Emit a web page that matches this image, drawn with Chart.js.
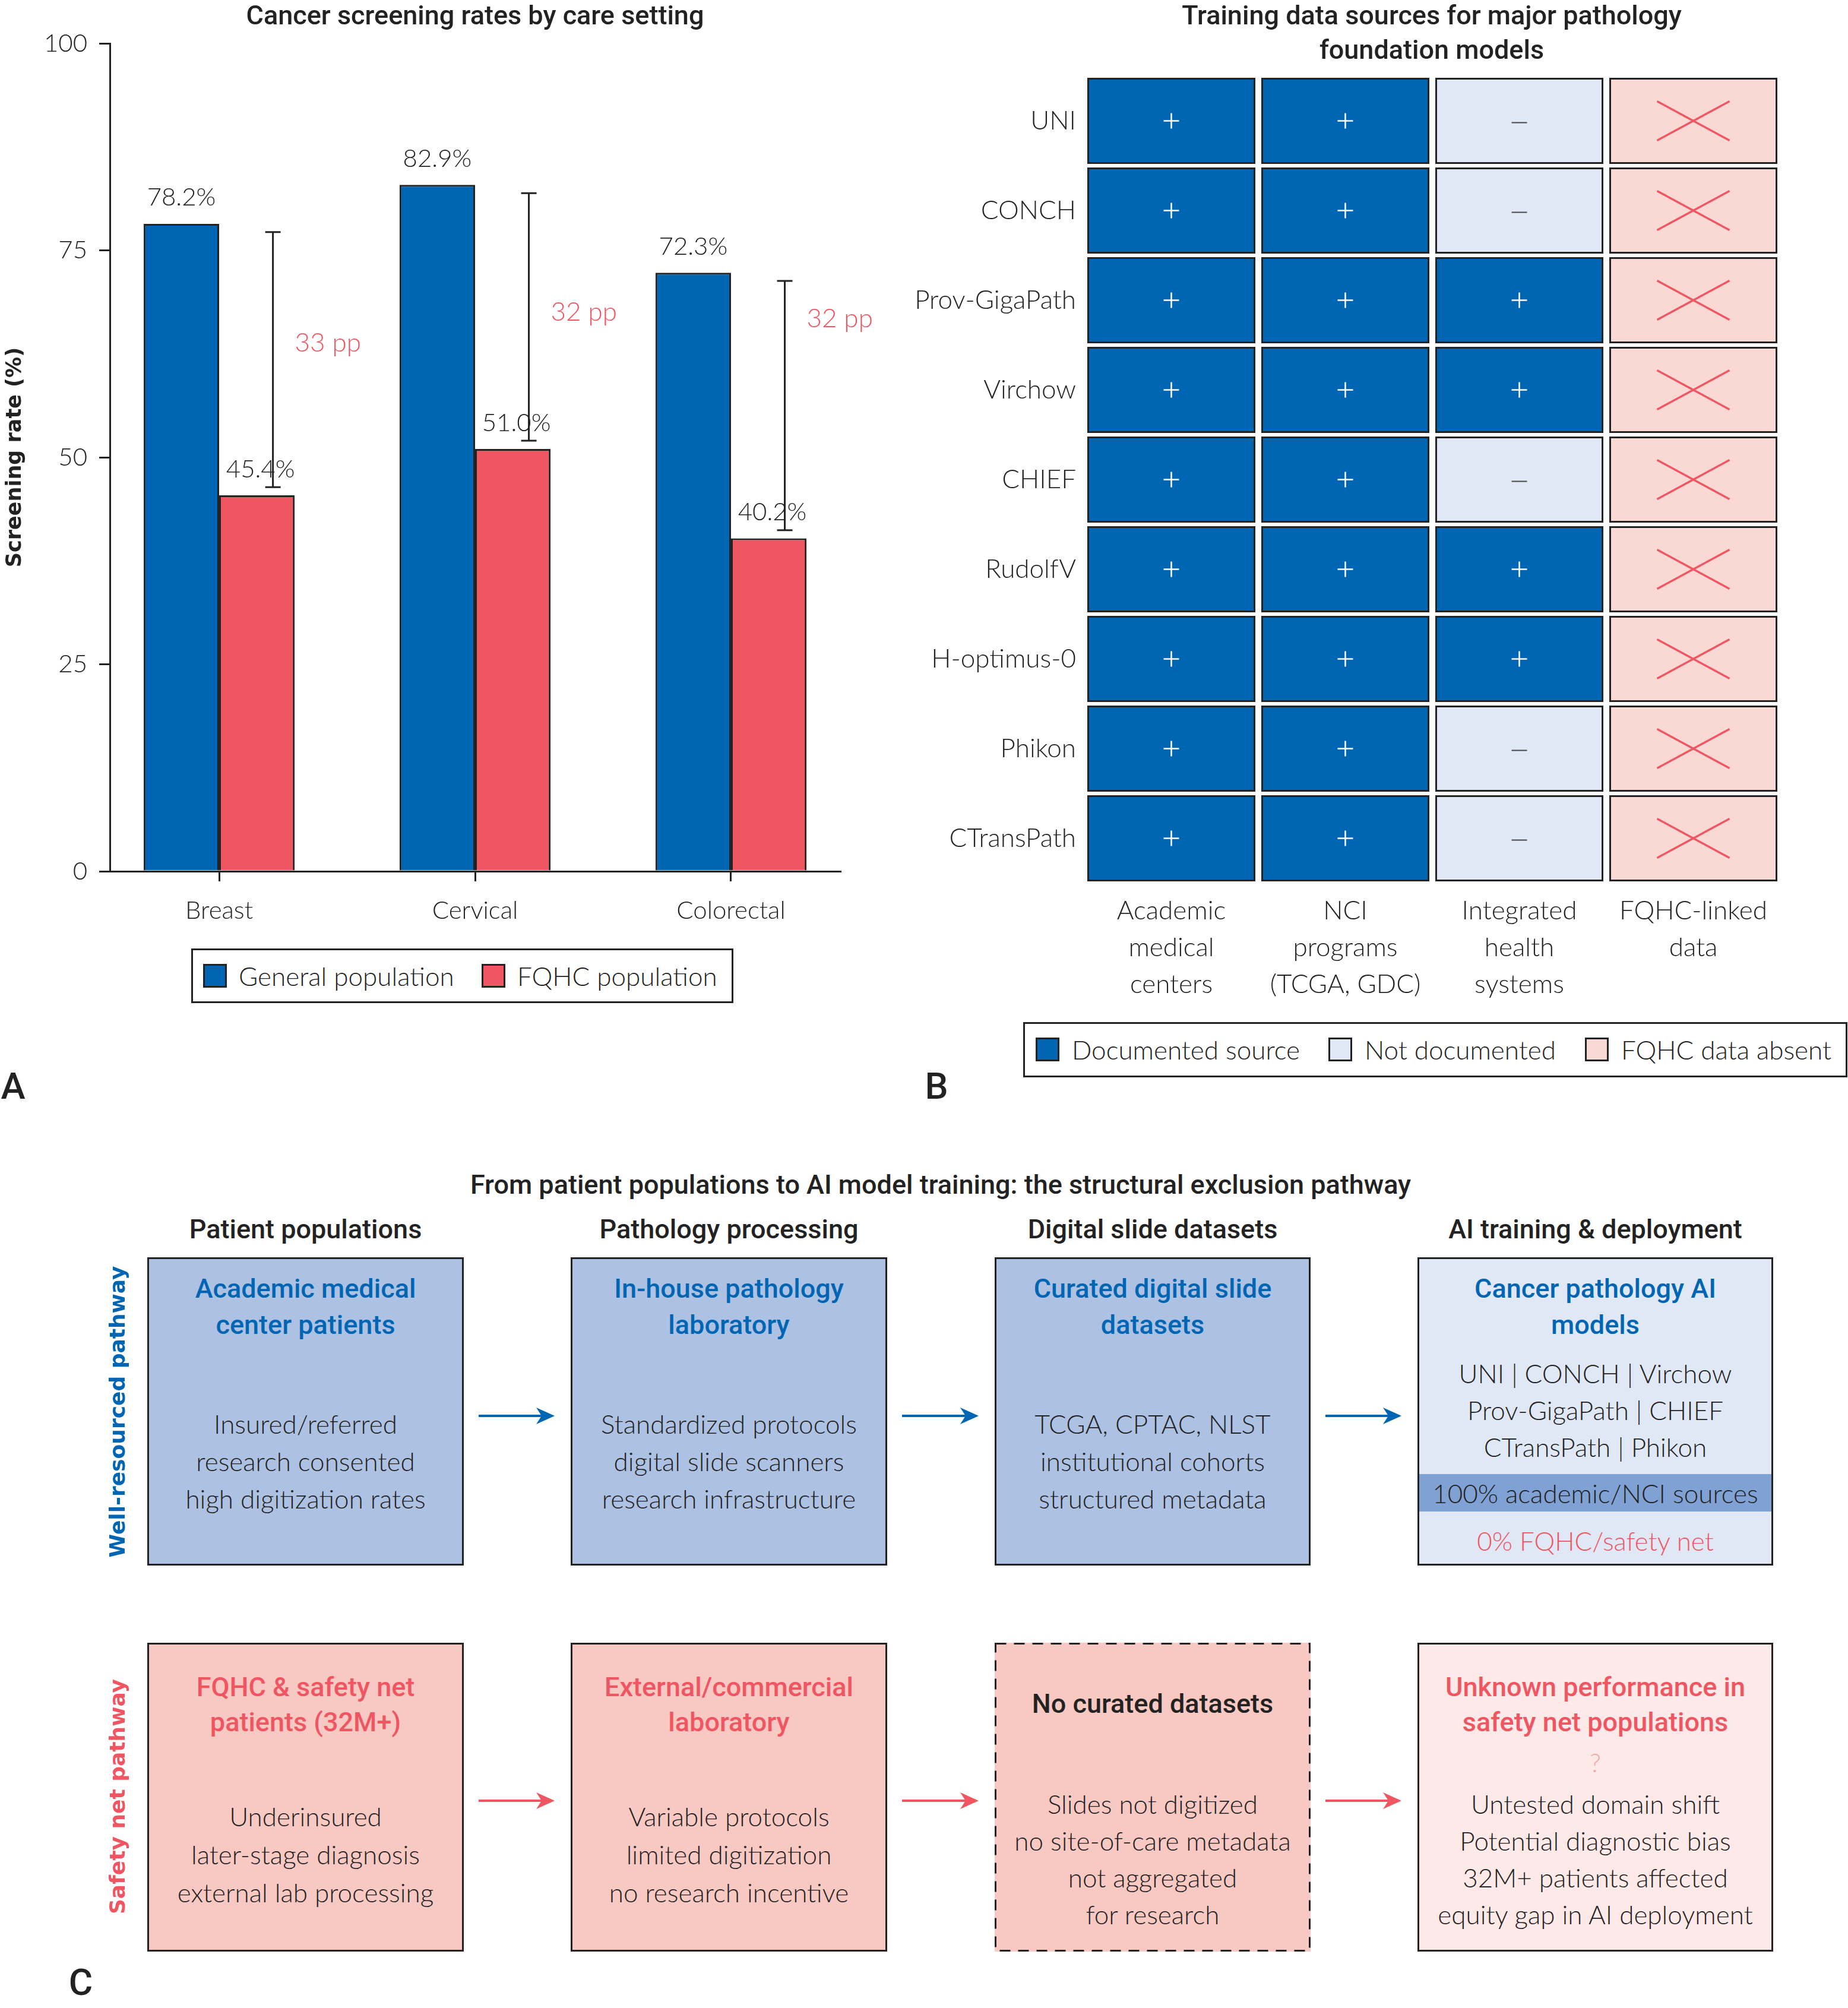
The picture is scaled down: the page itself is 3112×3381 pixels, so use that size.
<!DOCTYPE html>
<html>
<head>
<meta charset="utf-8">
<title>Screening rates, training data sources and exclusion pathway</title>
<script src="https://cdn.jsdelivr.net/npm/chart.js@4.4.1/dist/chart.umd.min.js"></script>
<style>
    html, body { margin: 0; padding: 0; background: #fff; }
    #page { position: relative; width: 3112px; height: 3381px; overflow: hidden; color: #222; font-family: Lato, 'Open Sans', sans-serif; font-weight: 300; }
    canvas { position: absolute; }
    .t { position: absolute; white-space: nowrap; transform: translate(-50%, -50%); line-height: 1.2; }
    .l { position: absolute; white-space: nowrap; transform: translate(0, -50%); line-height: 1.2; font-size: 44px; }
    .head { font-family: Roboto, sans-serif; font-weight: 500; font-size: 45px; }
    .btitle { font-family: Roboto, sans-serif; font-weight: 500; font-size: 45px; }
    .body { font-size: 44px; }
    .side { font-family: 'DejaVu Sans', sans-serif; font-weight: bold; font-size: 36px; transform: translate(-50%, -50%) rotate(-90deg); }
    .letter { font-family: Roboto, sans-serif; font-weight: 500; font-size: 62px; }
    .box { position: absolute; box-sizing: border-box; }
    .frame { position: absolute; box-sizing: border-box; border: 3px solid #222; }
    .sw { position: absolute; box-sizing: border-box; border: 3px solid #222; width: 40px; height: 40px; }
    svg { position: absolute; left: 0; top: 0; }
</style>
</head>
<body>
<div id="page">
    <canvas id="chartA" width="1500" height="1580" style="left:0;top:0"></canvas>
    <canvas id="chartB" width="1612" height="1700" style="left:1500px;top:0"></canvas>
</div>
<script>
// ---------------------------------------------------------------- panel A data
var screeningSites = ['Breast', 'Cervical', 'Colorectal'];
var generalRate = [78.2, 82.9, 72.3];
var fqhcRate = [45.4, 51.0, 40.2];
var rateTicks = [0, 25, 50, 75, 100];
var gapLabelLevel = [63.8, 67.5, 66.7];

// ---------------------------------------------------------------- panel B data
var models = ['UNI', 'CONCH', 'Prov-GigaPath', 'Virchow', 'CHIEF', 'RudolfV', 'H-optimus-0', 'Phikon', 'CTransPath'];
var sourceLabels = [['Academic', 'medical', 'centers'], ['NCI', 'programs', '(TCGA, GDC)'], ['Integrated', 'health', 'systems'], ['FQHC-linked', 'data']];
// 1 = documented source, 0 = not documented, -1 = FQHC data absent
var academicStatus = [1, 1, 1, 1, 1, 1, 1, 1, 1];
var nciStatus = [1, 1, 1, 1, 1, 1, 1, 1, 1];
var integratedStatus = [0, 0, 1, 1, 0, 1, 1, 0, 0];
var fqhcStatus = [-1, -1, -1, -1, -1, -1, -1, -1, -1];
var statusNames = ['Documented source', 'Not documented', 'FQHC data absent'];

// ---------------------------------------------------------------- panel C text
var stageHeaders = ['Patient populations', 'Pathology processing', 'Digital slide datasets', 'AI training & deployment'];
var wellTitles = [['Academic medical', 'center patients'], ['In-house pathology', 'laboratory'], ['Curated digital slide', 'datasets'], ['Cancer pathology AI', 'models']];
var wellDetails = [
    ['Insured/referred', 'research consented', 'high digitization rates'],
    ['Standardized protocols', 'digital slide scanners', 'research infrastructure'],
    ['TCGA, CPTAC, NLST', 'institutional cohorts', 'structured metadata'],
    ['UNI | CONCH | Virchow', 'Prov-GigaPath | CHIEF', 'CTransPath | Phikon']
];
var wellShare = '100% academic/NCI sources';
var netShare = '0% FQHC/safety net';
var netTitles = [['FQHC & safety net', 'patients (32M+)'], ['External/commercial', 'laboratory'], ['No curated datasets'], ['Unknown performance in', 'safety net populations']];
var netDetails = [
    ['Underinsured', 'later-stage diagnosis', 'external lab processing'],
    ['Variable protocols', 'limited digitization', 'no research incentive'],
    ['Slides not digitized', 'no site-of-care metadata', 'not aggregated', 'for research'],
    ['Untested domain shift', 'Potential diagnostic bias', '32M+ patients affected', 'equity gap in AI deployment']
];

var BLUE = '#0066b3';
var RED = '#f05662';
var INK = '#222222';
var page = document.getElementById('page');

function addText(text, cx, cy, cls, style) {
    var d = document.createElement('div');
    d.className = cls;
    d.textContent = text;
    d.style.left = cx + 'px';
    d.style.top = cy + 'px';
    if (style) {
        Object.assign(d.style, style);
    }
    page.appendChild(d);
    return d;
}

function addBlock(cls, left, top, width, height, style) {
    var d = document.createElement('div');
    d.className = cls;
    d.style.left = left + 'px';
    d.style.top = top + 'px';
    d.style.width = width + 'px';
    d.style.height = height + 'px';
    if (style) {
        Object.assign(d.style, style);
    }
    page.appendChild(d);
    return d;
}

// ---------------------------------------------------------------- panel A chart
var gapMarks = {
    id: 'gapMarks',
    afterDatasetsDraw(chart) {
        var ctx = chart.ctx;
        var xs = chart.scales.x;
        var ys = chart.scales.y;
        var gen = chart.getDatasetMeta(0).data;
        var fq = chart.getDatasetMeta(1).data;

        ctx.save();
        ctx.textAlign = 'center';
        ctx.textBaseline = 'middle';
        ctx.strokeStyle = INK;
        ctx.lineWidth = 3;

        generalRate.forEach((v, i) => {
            var bx = fq[i].x + 27;
            var top = ys.getPixelForValue(v - 1);
            var bot = ys.getPixelForValue(fqhcRate[i] + 1);
            ctx.beginPath();
            ctx.moveTo(bx, top);
            ctx.lineTo(bx, bot);
            ctx.moveTo(bx - 13, top);
            ctx.lineTo(bx + 13, top);
            ctx.moveTo(bx - 13, bot);
            ctx.lineTo(bx + 13, bot);
            ctx.stroke();

            ctx.font = '300 42px Lato';
            ctx.fillStyle = INK;
            ctx.fillText(v.toFixed(1) + '%', gen[i].x, gen[i].y - 44);
            ctx.fillText(fqhcRate[i].toFixed(1) + '%', fq[i].x + 6, fq[i].y - 44);

            ctx.font = '300 44px Lato';
            ctx.fillStyle = RED;
            ctx.fillText(Math.round(v - fqhcRate[i]) + ' pp', xs.getPixelForValue(i + 0.425), ys.getPixelForValue(gapLabelLevel[i]));
        });
        ctx.restore();
    }
};

new Chart(document.getElementById('chartA'), {
    type: 'bar',
    data: {
        datasets: [{
            label: 'General population',
            data: generalRate.map((v, i) => ({x: i, y: v})),
            backgroundColor: BLUE,
            borderColor: INK,
            borderWidth: 3
        }, {
            label: 'FQHC population',
            data: fqhcRate.map((v, i) => ({x: i, y: v})),
            backgroundColor: RED,
            borderColor: INK,
            borderWidth: 3
        }]
    },
    options: {
        responsive: false,
        animation: false,
        devicePixelRatio: 1,
        categoryPercentage: 0.59,
        barPercentage: 1,
        layout: {padding: {top: 73, right: 85, left: 0, bottom: 0}},
        plugins: {legend: {display: false}, tooltip: {enabled: false}},
        scales: {
            x: {
                type: 'linear',
                min: -0.427,
                max: 2.427,
                offset: false,
                z: 1,
                afterBuildTicks: (axis) => { axis.ticks = screeningSites.map((s, i) => ({value: i})); },
                afterFit: (axis) => { axis.height = 1580 - 1467; },
                grid: {drawOnChartArea: false, tickLength: 17, color: INK, lineWidth: 3, offset: false},
                border: {color: INK, width: 3},
                ticks: {
                    callback: (v) => screeningSites[v],
                    font: {family: 'Lato', weight: 300, size: 42},
                    color: INK,
                    padding: 24,
                    maxRotation: 0,
                    autoSkip: false
                }
            },
            y: {
                min: 0,
                max: 100,
                z: 1,
                afterBuildTicks: (axis) => { axis.ticks = rateTicks.map((v) => ({value: v})); },
                afterFit: (axis) => { axis.width = 185; },
                grid: {drawOnChartArea: false, tickLength: 18, color: INK, lineWidth: 3},
                border: {color: INK, width: 3},
                ticks: {
                    font: {family: 'Lato', weight: 300, size: 42},
                    color: INK,
                    padding: 20
                },
                title: {
                    display: true,
                    text: 'Screening rate (%)',
                    font: {family: 'DejaVu Sans', weight: 'bold', size: 35},
                    color: INK,
                    padding: {top: 5, bottom: 0}
                }
            }
        }
    },
    plugins: [gapMarks]
});

addText('Cancer screening rates by care setting', 800, 26, 't head');
addBlock('frame', 322, 1597, 913, 92);
addBlock('sw', 342, 1623, 40, 40, {background: BLUE});
addText('General population', 402, 1643, 'l');
addBlock('sw', 811, 1623, 40, 40, {background: RED});
addText('FQHC population', 871, 1643, 'l');
addText('A', 22, 1829, 't letter');

// ---------------------------------------------------------------- panel B chart
var cellStatus = [academicStatus, nciStatus, integratedStatus, fqhcStatus];
var statusFill = {'1': BLUE, '0': '#e0e8f5', '-1': '#fad9d5'};

var cellMarks = {
    id: 'cellMarks',
    afterDatasetsDraw(chart) {
        var ctx = chart.ctx;
        ctx.save();
        ctx.lineCap = 'butt';
        cellStatus.forEach((col, j) => {
            chart.getDatasetMeta(j).data.forEach((bar, i) => {
                var cx = (bar.x + bar.base) / 2;
                var cy = bar.y;
                var s = col[i];
                ctx.beginPath();
                if (s === 1) {
                    ctx.strokeStyle = '#ffffff';
                    ctx.lineWidth = 2.5;
                    ctx.moveTo(cx - 13, cy);
                    ctx.lineTo(cx + 13, cy);
                    ctx.moveTo(cx, cy - 13);
                    ctx.lineTo(cx, cy + 13);
                } else if (s === 0) {
                    ctx.strokeStyle = '#444444';
                    ctx.lineWidth = 2;
                    ctx.moveTo(cx - 13, cy + 3);
                    ctx.lineTo(cx + 13, cy + 3);
                } else {
                    ctx.strokeStyle = RED;
                    ctx.lineWidth = 3.5;
                    ctx.moveTo(cx - 61, cy - 33);
                    ctx.lineTo(cx + 61, cy + 33);
                    ctx.moveTo(cx - 61, cy + 33);
                    ctx.lineTo(cx + 61, cy - 33);
                }
                ctx.stroke();
            });
        });
        ctx.restore();
    }
};

new Chart(document.getElementById('chartB'), {
    type: 'bar',
    data: {
        labels: models,
        datasets: cellStatus.map((col, j) => ({
            label: sourceLabels[j].join(' '),
            data: col.map(() => [j + 0.017, j + 0.983]),
            backgroundColor: col.map((s) => statusFill[s]),
            borderColor: INK,
            borderWidth: 3,
            borderSkipped: false,
            grouped: false,
            barPercentage: 0.96,
            categoryPercentage: 1
        }))
    },
    options: {
        indexAxis: 'y',
        responsive: false,
        animation: false,
        devicePixelRatio: 1,
        layout: {padding: {top: 128, right: 114, left: 0, bottom: 0}},
        plugins: {legend: {display: false}, tooltip: {enabled: false}},
        scales: {
            x: {
                type: 'linear',
                min: 0,
                max: 4,
                afterBuildTicks: (axis) => { axis.ticks = sourceLabels.map((s, j) => ({value: j + 0.5})); },
                afterFit: (axis) => { axis.height = 1700 - 1487; },
                grid: {display: false},
                border: {display: false},
                ticks: {
                    callback: (v) => sourceLabels[Math.floor(v)],
                    font: {family: 'Lato', weight: 300, size: 44, lineHeight: 1.41},
                    color: INK,
                    padding: 8,
                    maxRotation: 0,
                    autoSkip: false
                }
            },
            y: {
                afterFit: (axis) => { axis.width = 326; },
                grid: {display: false},
                border: {display: false},
                ticks: {
                    font: {family: 'Lato', weight: 300, size: 44},
                    color: INK,
                    padding: 6
                }
            }
        }
    },
    plugins: [cellMarks]
});

addText('Training data sources for major pathology', 2411, 26, 't head');
addText('foundation models', 2411, 84, 't head');
addBlock('frame', 1723, 1721, 1388, 93);
var legendSwatchX = [1744, 2237, 2669];
var legendFill = [statusFill['1'], statusFill['0'], statusFill['-1']];
statusNames.forEach((name, k) => {
    addBlock('sw', legendSwatchX[k], 1747, 40, 40, {background: legendFill[k]});
    addText(name, legendSwatchX[k] + 61, 1767, 'l');
});
addText('B', 1577, 1829, 't letter');

// ---------------------------------------------------------------- panel C flow
var boxLeft = [248, 961, 1675, 2387];
var boxRight = [781, 1494, 2207, 2986];
var wellTop = 2117, wellBottom = 2636;
var netTop = 2766, netBottom = 3286;
var wellFill = ['#adc1e3', '#adc1e3', '#adc1e3', '#e0e8f5'];
var netFill = ['#f8c8c2', '#f8c8c2', '#f8c8c2', '#fde9e8'];

addText('From patient populations to AI model training: the structural exclusion pathway', 1584, 1995, 't head');

stageHeaders.forEach((h, k) => {
    var cx = (boxLeft[k] + boxRight[k]) / 2;
    var w = boxRight[k] - boxLeft[k];
    addText(h, cx, 2070, 't head');

    // well-resourced row
    addBlock('box', boxLeft[k], wellTop, w, wellBottom - wellTop, {background: wellFill[k], border: '3px solid #222'});
    wellTitles[k].forEach((line, n) => addText(line, cx, 2170 + n * 61, 't btitle', {color: BLUE}));
    if (k < 3) {
        wellDetails[k].forEach((line, n) => addText(line, cx, 2397 + n * 63, 't body'));
    } else {
        wellDetails[k].forEach((line, n) => addText(line, cx, 2312 + n * 62, 't body'));
        addBlock('box', boxLeft[k] + 3, 2482, w - 6, 63, {background: '#7fa1d4'});
        addText(wellShare, cx, 2514, 't body');
        addText(netShare, cx, 2594, 't body', {color: RED});
    }

    // safety net row
    var netStyle = {background: netFill[k]};
    if (k !== 2) {
        netStyle.border = '3px solid #222';
    }
    addBlock('box', boxLeft[k], netTop, w, netBottom - netTop, netStyle);
    if (k === 2) {
        addText(netTitles[k][0], cx, 2869, 't btitle', {color: INK});
    } else {
        netTitles[k].forEach((line, n) => addText(line, cx, 2841 + n * 59, 't btitle', {color: RED}));
    }
    if (k < 2) {
        netDetails[k].forEach((line, n) => addText(line, cx, 3058 + n * 64, 't body'));
    } else {
        netDetails[k].forEach((line, n) => addText(line, cx, 3037 + n * 62, 't body'));
    }
    if (k === 3) {
        addText('?', cx, 2967, 't body', {color: '#f4a6a6'});
    }
});

// arrows and the dashed frame
var svgNS = 'http://www.w3.org/2000/svg';
var svg = document.createElementNS(svgNS, 'svg');
svg.setAttribute('width', 3112);
svg.setAttribute('height', 3381);
page.appendChild(svg);

function svgEl(tag, attrs) {
    var el = document.createElementNS(svgNS, tag);
    Object.keys(attrs).forEach((k) => el.setAttribute(k, attrs[k]));
    svg.appendChild(el);
    return el;
}

function arrow(x1, x2, y, color) {
    svgEl('line', {x1: x1, y1: y, x2: x2 - 20, y2: y, stroke: color, 'stroke-width': 4});
    svgEl('path', {d: 'M' + x2 + ',' + y + ' L' + (x2 - 31) + ',' + (y - 14) + ' L' + (x2 - 22) + ',' + y + ' L' + (x2 - 31) + ',' + (y + 14) + ' Z', fill: color});
}

for (var k = 0; k < 3; k++) {
    arrow(boxRight[k] + 25, boxLeft[k + 1] - 27, 2384, BLUE);
    arrow(boxRight[k] + 25, boxLeft[k + 1] - 27, 3032, RED);
}
svgEl('rect', {x: boxLeft[2] + 1.5, y: netTop + 1.5, width: boxRight[2] - boxLeft[2] - 3, height: netBottom - netTop - 3, fill: 'none', stroke: INK, 'stroke-width': 3, 'stroke-dasharray': '18 13'});

addText('Well-resourced pathway', 198, 2377, 't side', {color: BLUE});
addText('Safety net pathway', 198, 3025, 't side', {color: RED});
addText('C', 136, 3338, 't letter');
</script>
</body>
</html>
